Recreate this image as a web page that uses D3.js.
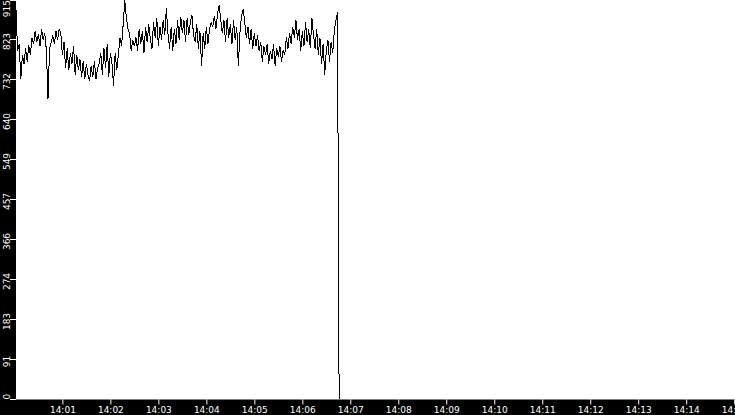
<!DOCTYPE html>
<html><head><meta charset="utf-8">
<script src="https://cdn.jsdelivr.net/npm/d3@7"></script>
<style>html,body{margin:0;padding:0;background:#fff;overflow:hidden}svg{display:block}</style>
</head><body><svg id="c" width="735" height="415"></svg>
<script>
// ---- data ----
const sampleStart = [14, 0, 2];   // hh, mm, ss of first sample
const sampleStepSec = 2;           // seconds between samples
const values = [
 893, 800, 815, 735, 790, 770, 805, 775, 812, 790,
 830, 815, 845, 820, 838, 810, 850, 825, 840,
 800, 690, 805,
 820, 835, 815, 845, 825, 850,
 840, 790, 820, 760, 805, 755, 795, 770, 810, 745, 790, 755, 780,
 740, 775, 735, 770, 745, 730, 765, 740, 775, 735, 760, 770,
 795, 745, 805, 760, 815, 740, 795, 770, 720, 795, 755,
 790, 830, 810, 860, 915,
 875, 850, 840, 800, 825, 810, 830,
 800, 850, 815, 845, 795, 855, 820, 860, 825, 805, 865, 830, 875, 810, 855,
 825, 870, 835, 897, 840, 805, 855,
 800, 850, 815, 870, 825, 878, 840, 870, 820, 875, 835, 865,
 882, 835, 820, 860, 805, 845, 765, 840, 805, 855, 815, 850, 865,
 855, 880, 850, 885, 905, 870,
 840, 870, 820, 875, 830, 860, 815, 870, 825, 855, 765, 840, 880, 895,
 865, 830, 855, 815, 850, 805, 840, 810, 835, 800,
 820, 775, 810, 790, 815, 770, 800, 780, 815, 765, 805, 785, 810, 775, 800, 790, 830, 805,
 840, 815, 855, 830, 870, 825, 850, 800, 845, 810, 865, 820, 850, 805, 875, 835,
 805, 850, 790, 830, 770, 815, 745, 800, 825, 775, 820, 795, 845,
 870, 888,
 0
];
const yTickValues = [0, 91.5, 183, 274.5, 366, 457.5, 549, 640.5, 732, 823.5, 915];
const yTickLabels = ["0", "91", "183", "274", "366", "457", "549", "640", "732", "823", "915"];
const xDomain = [[14, 0, 2], [14, 15, 1]];
const yDomain = [0, 915];

// ---- chart ----
const W = 735, H = 415, L = 16, B = 399.5;
const mk = a => new Date(2020, 0, 1, a[0], a[1], a[2]);
const t0 = mk(sampleStart);
const data = values.map((v, i) => ({t: new Date(t0.getTime() + i * sampleStepSec * 1000), v}));

const svg = d3.select("#c");
const x = d3.scaleTime().domain(xDomain.map(mk)).range([L, W]);
const y = d3.scaleLinear().domain(yDomain).range([B, 0.5]);

svg.append("rect").attr("x", 0).attr("y", 0).attr("width", W).attr("height", H).attr("fill", "#fff");
svg.append("rect").attr("x", 0).attr("y", 0).attr("width", L).attr("height", H).attr("fill", "#000");
svg.append("rect").attr("x", 0).attr("y", B).attr("width", W).attr("height", H - B).attr("fill", "#000");

const line = d3.line().x(d => x(d.t)).y(d => y(d.v));
svg.append("path").datum(data).attr("d", line)
  .attr("fill", "none").attr("stroke", "#000").attr("stroke-width", 1)
  .attr("shape-rendering", "crispEdges");

// y axis
const font = "DejaVu Sans";
const yAxis = svg.append("g");
yTickValues.forEach((tv, i) => {
  const py = Math.round(y(tv)) - 0.5;
  yAxis.append("line").attr("x1", 10).attr("x2", L).attr("y1", py).attr("y2", py)
    .attr("stroke", "#fff").attr("stroke-width", 1).attr("shape-rendering", "crispEdges");
  const lbl = yTickLabels[i];
  const w = lbl.length * 5.8;
  let cy = py + 2;
  cy = Math.max(w / 2, Math.min(B - w / 2, cy));
  yAxis.append("text").attr("transform", `translate(9.5,${cy}) rotate(-90)`)
    .attr("text-anchor", "middle").attr("fill", "#fff")
    .attr("font-family", font).attr("font-size", 9).text(lbl);
});

// x axis
const xAxis = svg.append("g").attr("transform", `translate(0,${B})`)
  .call(d3.axisBottom(x).ticks(d3.timeMinute.every(1)).tickFormat(d3.timeFormat("%H:%M")).tickSize(5).tickPadding(2));
xAxis.select(".domain").remove();
xAxis.selectAll(".tick line").attr("stroke", "#fff");
xAxis.selectAll(".tick text").attr("fill", "#fff").attr("font-family", font).attr("font-size", 9);
</script></body></html>
